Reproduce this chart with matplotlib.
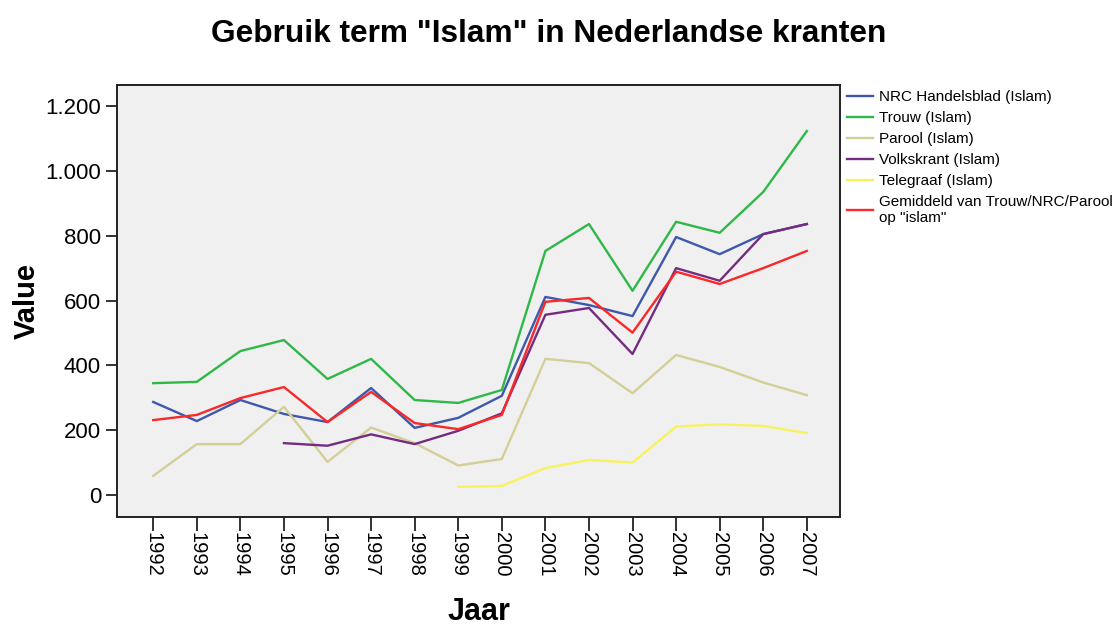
import numpy as np
import matplotlib
matplotlib.use("Agg")
import matplotlib.pyplot as plt
from matplotlib.ticker import FuncFormatter

plt.rcParams['font.family'] = ['Liberation Sans', 'DejaVu Sans']

years = list(range(1992, 2008))
nan = np.nan

nrc = [287, 228, 293, 250, 225, 330, 207, 238, 306, 611, 586, 552, 796, 743, 805, 836]
trouw = [345, 349, 444, 478, 358, 420, 293, 284, 324, 753, 836, 630, 843, 809, 935, 1123]
parool = [59, 157, 157, 272, 102, 208, 160, 91, 111, 420, 407, 314, 432, 395, 347, 308]
volkskrant = [nan, nan, nan, 160, 152, 187, 157, 198, 252, 556, 577, 435, 700, 661, 805, 836]
telegraaf = [nan, nan, nan, nan, nan, nan, nan, 25, 28, 83, 108, 100, 211, 218, 213, 191]
gemiddeld = [231, 247, 299, 333, 225, 318, 222, 203, 247, 596, 608, 501, 689, 651, 700, 753]

series = [
    ("NRC Handelsblad (Islam)", nrc, "#3e58ac"),
    ("Trouw (Islam)", trouw, "#2eb848"),
    ("Parool (Islam)", parool, "#d4ce97"),
    ("Volkskrant (Islam)", volkskrant, "#742c80"),
    ("Telegraaf (Islam)", telegraaf, "#f9f260"),
    ("Gemiddeld van Trouw/NRC/Parool\nop \"islam\"", gemiddeld, "#fa2828"),
]

fig = plt.figure(figsize=(11.18, 6.26), dpi=100)
ax = fig.add_axes([0.1047, 0.1741, 0.6466, 0.6901])
ax.set_facecolor("#f0f0f0")

for label, vals, col in series:
    ax.plot(years, vals, color=col, lw=1.7, label=label)

ax.set_xlim(1991.17, 2007.76)
ax.set_ylim(-68, 1265)
ax.set_xticks(years)
ax.set_xticklabels([str(y) for y in years], rotation=-90, fontsize=14.5)
ax.set_yticks(range(0, 1201, 200))
ax.yaxis.set_major_formatter(FuncFormatter(lambda v, p: f"{int(v):,}".replace(",", ".")))
ax.tick_params(axis='y', labelsize=16, length=8, width=1.3, color="#222222")
ax.tick_params(axis='x', length=10, width=1.3, color="#222222", pad=1)

for s in ax.spines.values():
    s.set_linewidth(1.4)
    s.set_color("#222222")

ax.set_xlabel("Jaar", fontsize=22, fontweight='bold', labelpad=14)
ax.set_ylabel("Value", fontsize=21, fontweight='bold', labelpad=3)
fig.text(0.491, 0.945, "Gebruik term \"Islam\" in Nederlandse kranten",
         ha='center', va='center', fontsize=22.8, fontweight='bold')

ax.legend(loc='upper left', bbox_to_anchor=(1.003, 0.998), frameon=False,
          fontsize=11, handlelength=1.7, handletextpad=0.4,
          labelspacing=0.45, borderaxespad=0.1, borderpad=0.2)

fig.savefig("out.png", dpi=100)
